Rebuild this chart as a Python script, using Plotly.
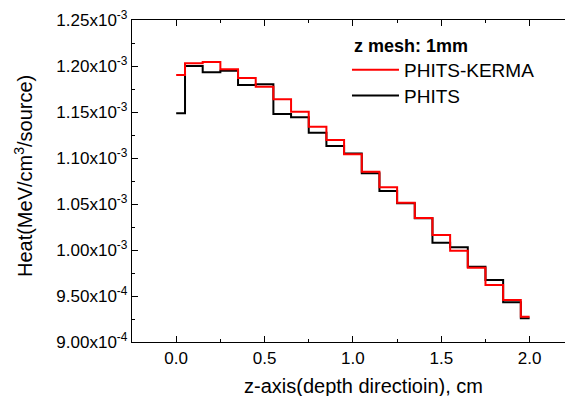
import plotly.graph_objects as go

# ---- data ----
z_cm = [0.0, 0.1, 0.2, 0.3, 0.4, 0.5, 0.6, 0.7, 0.8, 0.9, 1.0,
        1.1, 1.2, 1.3, 1.4, 1.5, 1.6, 1.7, 1.8, 1.9, 2.0]
heat_kerma = [1.1902e-3, 1.2029e-3, 1.2043e-3, 1.1964e-3, 1.1870e-3, 1.1775e-3,
              1.1638e-3, 1.1503e-3, 1.1340e-3, 1.1196e-3, 1.1040e-3, 1.0851e-3,
              1.0681e-3, 1.0514e-3, 1.0348e-3, 1.0163e-3, 0.9993e-3, 0.9808e-3,
              0.9620e-3, 0.9457e-3, 0.9275e-3]
heat_phits = [1.1486e-3, 1.2000e-3, 1.1931e-3, 1.1949e-3, 1.1793e-3, 1.1801e-3,
              1.1478e-3, 1.1442e-3, 1.1275e-3, 1.1130e-3, 1.1050e-3, 1.0833e-3,
              1.0641e-3, 1.0507e-3, 1.0345e-3, 1.0079e-3, 1.0029e-3, 0.9819e-3,
              0.9674e-3, 0.9431e-3, 0.9257e-3]
y_tickvals = [9.0e-4, 9.5e-4, 1.0e-3, 1.05e-3, 1.10e-3, 1.15e-3, 1.20e-3, 1.25e-3]
y_ticktext = ["9.00x10<sup>-4</sup>", "9.50x10<sup>-4</sup>", "1.00x10<sup>-3</sup>",
              "1.05x10<sup>-3</sup>", "1.10x10<sup>-3</sup>", "1.15x10<sup>-3</sup>",
              "1.20x10<sup>-3</sup>", "1.25x10<sup>-3</sup>"]
x_tickvals = [0.0, 0.5, 1.0, 1.5, 2.0]
x_ticktext = ["0.0", "0.5", "1.0", "1.5", "2.0"]
legend_title = "z mesh: 1mm"

FONT = "Arial, Liberation Sans, sans-serif"

fig = go.Figure()
fig.add_trace(go.Scatter(x=z_cm, y=heat_phits, mode="lines", name="PHITS",
                         legend="legend2",
                         line=dict(color="#000000", width=2, shape="hvh")))
fig.add_trace(go.Scatter(x=z_cm, y=heat_kerma, mode="lines", name="PHITS-KERMA",
                         legend="legend",
                         line=dict(color="#ff0000", width=2, shape="hvh")))

leg_common = dict(xanchor="left", yanchor="middle", bgcolor="rgba(0,0,0,0)",
                  borderwidth=0, font=dict(size=19, family=FONT), itemwidth=47)
fig.update_layout(
    width=565, height=396,
    margin=dict(l=132, r=0, t=20, b=54),
    paper_bgcolor="white", plot_bgcolor="white",
    font=dict(family=FONT, color="black", size=17),
    showlegend=True,
    legend=dict(x=0.4965, y=0.8447, **leg_common),
    legend2=dict(x=0.4965, y=0.765, **leg_common),
)
fig.update_xaxes(
    range=[-0.25, 2.2], showgrid=False, zeroline=False,
    showline=True, linecolor="black", linewidth=1.3, mirror="allticks",
    ticks="inside", ticklen=6, tickwidth=1.3, tickcolor="black",
    tickmode="array", tickvals=x_tickvals, ticktext=x_ticktext,
    tickfont=dict(size=17, family=FONT),
    minor=dict(tickmode="linear", tick0=0, dtick=0.25, ticks="inside",
               ticklen=3, tickwidth=1.3, tickcolor="black"),
)
fig.update_yaxes(
    range=[9.0e-4, 1.25e-3], showgrid=False, zeroline=False,
    showline=True, linecolor="black", linewidth=1.3, mirror=False,
    ticks="inside", ticklen=6, tickwidth=1.3, tickcolor="black",
    tickmode="array", tickvals=y_tickvals, ticktext=y_ticktext,
    tickfont=dict(size=17, family=FONT),
    minor=dict(tickmode="linear", tick0=9.0e-4, dtick=2.5e-5, ticks="inside",
               ticklen=3, tickwidth=1.3, tickcolor="black"),
)

fig.add_annotation(text="<b>" + legend_title + "</b>", xref="paper", yref="paper",
                   x=0.508, y=0.919, xanchor="left", yanchor="middle",
                   showarrow=False, font=dict(size=18, family=FONT))
fig.add_annotation(text="z-axis(depth directioin), cm", xref="paper", yref="paper",
                   x=0.535, y=-0.137, xanchor="center", yanchor="middle",
                   showarrow=False, font=dict(size=20, family=FONT))
fig.add_annotation(text="Heat(MeV/cm<sup>3</sup>/source)", xref="paper", yref="paper",
                   x=-0.252, y=0.515, xanchor="center", yanchor="middle", textangle=-90,
                   showarrow=False, font=dict(size=20, family=FONT))

fig.write_html("out.html", config={"displayModeBar": False},
               post_script="document.body.style.margin='0';")
